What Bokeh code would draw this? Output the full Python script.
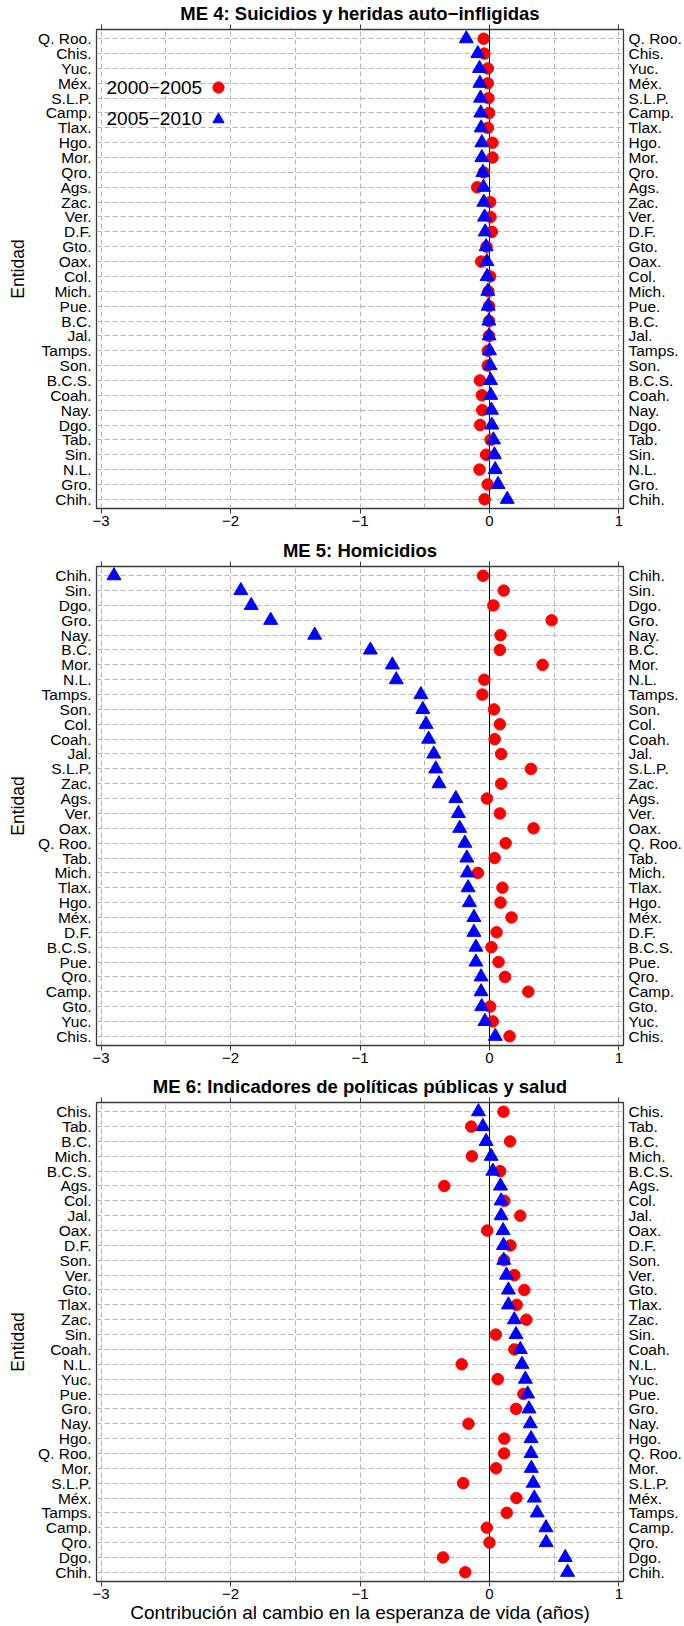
from bokeh.plotting import figure
from bokeh.models import (Range1d, FixedTicker, LinearAxis, Span, Legend,
                          LegendItem, Label, ColumnDataSource)
from bokeh.core.properties import value
from bokeh.layouts import column
from bokeh.embed import file_html
from bokeh.resources import INLINE

FONT = "Liberation Sans"
RED = "#FF0000"
BLUE = "#0000FF"
GRID = "#B5B5B5"
BOX = "#383838"

period_a = "2000\u22122005"
period_b = "2005\u22122010"

x_ticks = [-3, -2, -1, 0, 1]
x_tick_labels = ["\u22123", "\u22122", "\u22121", "0", "1"]
x_grid = [-3, -2.5, -2, -1.5, -1, -0.5, 0, 0.5, 1]

# ---- ME 4: suicides (states listed top to bottom) ----
me4_title = "ME 4: Suicidios y heridas auto\u2212infligidas"
me4_states = ["Q. Roo.", "Chis.", "Yuc.", "Méx.", "S.L.P.", "Camp.", "Tlax.", "Hgo.",
              "Mor.", "Qro.", "Ags.", "Zac.", "Ver.", "D.F.", "Gto.", "Oax.",
              "Col.", "Mich.", "Pue.", "B.C.", "Jal.", "Tamps.", "Son.", "B.C.S.",
              "Coah.", "Nay.", "Dgo.", "Tab.", "Sin.", "N.L.", "Gro.", "Chih."]
me4_a = [-0.045, -0.040, -0.013, -0.013, -0.008, -0.003, -0.013, 0.023,
         0.023, -0.044, -0.095, 0.005, 0.008, 0.018, -0.023, -0.064,
         0.005, -0.008, -0.003, -0.003, -0.003, -0.013, -0.013, -0.074,
         -0.059, -0.056, -0.072, 0.008, -0.026, -0.077, -0.014, -0.038]
me4_b = [-0.179, -0.090, -0.077, -0.074, -0.069, -0.067, -0.064, -0.059,
         -0.059, -0.051, -0.046, -0.044, -0.038, -0.033, -0.026, -0.020,
         -0.018, -0.013, -0.010, -0.005, -0.003, 0.000, 0.005, 0.008,
         0.010, 0.015, 0.018, 0.031, 0.038, 0.044, 0.066, 0.137]

# ---- ME 5: homicides ----
me5_title = "ME 5: Homicidios"
me5_states = ["Chih.", "Sin.", "Dgo.", "Gro.", "Nay.", "B.C.", "Mor.", "N.L.",
              "Tamps.", "Son.", "Col.", "Coah.", "Jal.", "S.L.P.", "Zac.", "Ags.",
              "Ver.", "Oax.", "Q. Roo.", "Tab.", "Mich.", "Tlax.", "Hgo.", "Méx.",
              "D.F.", "B.C.S.", "Pue.", "Qro.", "Camp.", "Gto.", "Yuc.", "Chis."]
me5_a = [-0.050, 0.110, 0.030, 0.480, 0.085, 0.080, 0.410, -0.040,
         -0.055, 0.035, 0.080, 0.040, 0.090, 0.320, 0.090, -0.020,
         0.080, 0.340, 0.125, 0.040, -0.090, 0.100, 0.085, 0.170,
         0.055, 0.015, 0.070, 0.120, 0.300, 0.005, 0.025, 0.155]
me5_b = [-2.900, -1.920, -1.840, -1.690, -1.350, -0.920, -0.750, -0.720,
         -0.530, -0.515, -0.490, -0.470, -0.430, -0.415, -0.390, -0.260,
         -0.240, -0.230, -0.190, -0.175, -0.170, -0.165, -0.155, -0.120,
         -0.120, -0.105, -0.105, -0.065, -0.065, -0.060, -0.035, 0.045]

# ---- ME 6: public policy and health indicators ----
me6_title = "ME 6: Indicadores de políticas públicas y salud"
me6_states = ["Chis.", "Tab.", "B.C.", "Mich.", "B.C.S.", "Ags.", "Col.", "Jal.",
              "Oax.", "D.F.", "Son.", "Ver.", "Gto.", "Tlax.", "Zac.", "Sin.",
              "Coah.", "N.L.", "Yuc.", "Pue.", "Gro.", "Nay.", "Hgo.", "Q. Roo.",
              "Mor.", "S.L.P.", "Méx.", "Tamps.", "Camp.", "Qro.", "Dgo.", "Chih."]
me6_a = [0.108, -0.141, 0.159, -0.136, 0.082, -0.349, 0.115, 0.238,
         -0.018, 0.162, 0.113, 0.192, 0.269, 0.210, 0.285, 0.049,
         0.192, -0.215, 0.064, 0.262, 0.205, -0.162, 0.115, 0.113,
         0.051, -0.203, 0.208, 0.133, -0.021, 0.000, -0.359, -0.187]
me6_b = [-0.085, -0.051, -0.026, 0.013, 0.026, 0.085, 0.090, 0.090,
         0.105, 0.108, 0.110, 0.131, 0.146, 0.146, 0.192, 0.205,
         0.238, 0.251, 0.277, 0.295, 0.305, 0.315, 0.321, 0.321,
         0.323, 0.338, 0.346, 0.369, 0.436, 0.438, 0.585, 0.603]

x_label = "Contribución al cambio en la esperanza de vida (años)"
y_label = "Entidad"


def style_axis(ax):
    ax.axis_line_color = None
    ax.major_tick_line_color = BOX
    ax.minor_tick_line_color = None
    ax.major_label_text_font = FONT
    ax.major_label_text_color = "black"
    ax.axis_label_text_font = FONT
    ax.axis_label_text_font_style = "normal"
    ax.axis_label_text_color = "black"


def panel(title, states, vals_a, vals_b, height, bottom, xlab=None, legend=False):
    n = len(states)
    ypos = list(range(n, 0, -1))
    src = ColumnDataSource(dict(state=states, y=ypos, a=vals_a, b=vals_b))

    p = figure(width=684, height=height, output_backend="svg", toolbar_location=None,
               x_range=Range1d(-3.035, 1.035), y_range=Range1d(0.38, n + 0.62),
               min_border_left=96, min_border_right=58, min_border_top=29,
               min_border_bottom=bottom, background_fill_color="white",
               border_fill_color="white")

    p.title.text = title
    p.title.align = "center"
    p.title.text_font = FONT
    p.title.text_font_size = "18.5px"
    p.title.text_font_style = "bold"
    p.title.text_color = "black"
    p.title.standoff = 1

    p.outline_line_color = BOX
    p.outline_line_width = 1.3

    # dashed reference grid
    p.xgrid.ticker = FixedTicker(ticks=x_grid)
    p.ygrid.ticker = FixedTicker(ticks=ypos)
    for g in (p.xgrid, p.ygrid):
        g.grid_line_color = GRID
        g.grid_line_dash = "5 3"
        g.grid_line_width = 1

    p.add_layout(Span(location=0, dimension="height", line_color="black",
                      line_width=1, level="underlay"))

    r_a = p.scatter("a", "y", source=src, marker="circle", size=11.5,
                    fill_color=RED, line_color=RED)
    r_b = p.scatter("b", "y", source=src, marker="triangle", size=14,
                    fill_color=BLUE, line_color=BLUE)

    overrides = {y: s for y, s in zip(ypos, states)}

    # bottom axis
    xa = p.xaxis[0]
    xa.ticker = FixedTicker(ticks=x_ticks)
    xa.major_label_overrides = dict(zip(x_ticks, x_tick_labels))
    xa.major_tick_out = 5
    xa.major_tick_in = 0
    xa.major_label_standoff = 2
    style_axis(xa)
    xa.major_label_text_font_size = "15px"
    if xlab:
        xa.axis_label = xlab
        xa.axis_label_text_font_size = "19px"
        xa.axis_label_standoff = 0

    # top axis: tick marks only
    top = LinearAxis(ticker=FixedTicker(ticks=x_ticks),
                     major_label_overrides={t: "" for t in x_ticks})
    style_axis(top)
    top.major_tick_out = 5
    top.major_tick_in = 0
    top.major_label_standoff = 0
    top.major_label_text_font_size = "1px"
    p.add_layout(top, "above")

    # left axis with state names
    ya = p.yaxis[0]
    ya.ticker = FixedTicker(ticks=ypos)
    ya.major_label_overrides = overrides
    ya.major_tick_out = 0
    ya.major_tick_in = 0
    ya.major_label_standoff = 5
    style_axis(ya)
    ya.major_label_text_font_size = "15.5px"
    ya.axis_label = y_label
    ya.axis_label_text_font_size = "17.5px"
    ya.axis_label_standoff = 7

    # right axis repeating state names
    right = LinearAxis(ticker=FixedTicker(ticks=ypos), major_label_overrides=overrides)
    style_axis(right)
    right.major_tick_out = 0
    right.major_tick_in = 0
    right.major_label_standoff = 5
    right.major_label_text_font_size = "15.5px"
    p.add_layout(right, "right")

    if legend:
        # legend keys only; the period names are set to the left of the keys
        leg = Legend(items=[LegendItem(label=value(""), renderers=[r_a]),
                            LegendItem(label=value(""), renderers=[r_b])],
                     location=(108, 375), glyph_width=28, glyph_height=28,
                     spacing=4, padding=0, margin=0, label_width=0,
                     label_standoff=0, label_text_font_size="1px",
                     border_line_color=None, background_fill_alpha=0)
        p.add_layout(leg)
        for text, yy in ((period_a, 421), (period_b, 390)):
            p.add_layout(Label(x=10, y=yy, x_units="screen", y_units="screen",
                               text=text, text_font=FONT, text_font_size="19px",
                               text_baseline="middle", text_color="black"))
    return p


p1 = panel(me4_title, me4_states, me4_a, me4_b, 537, 29, legend=True)
p2 = panel(me5_title, me5_states, me5_a, me5_b, 536, 28)
p3 = panel(me6_title, me6_states, me6_a, me6_b, 553, 45, xlab=x_label)

layout = column(p1, p2, p3, spacing=0)
open("out.html", "w").write(file_html(layout, INLINE))
